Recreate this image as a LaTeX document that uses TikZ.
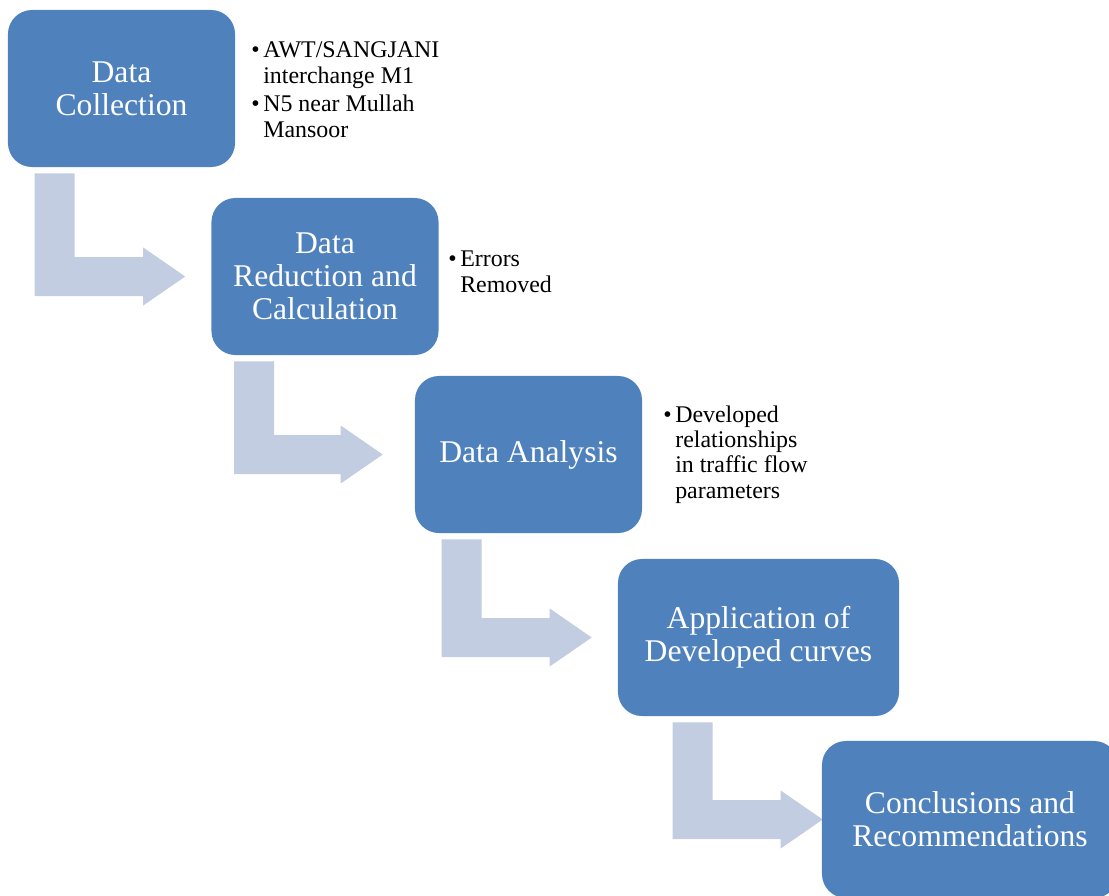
\documentclass[tikz,border=0pt]{standalone}
\usepackage{fontspec}
\setmainfont{Liberation Serif}
\usepackage{tikz}
\usetikzlibrary{calc,backgrounds}

\definecolor{stepblue}{HTML}{4F81BD}
\definecolor{arrowgrey}{RGB}{194,205,225}

% bullet hanging left of the text
\newcommand{\bul}{\llap{\textbullet\hspace{0.15em}}}

% bent arrow: source, target, stem offset, tip offset
\newcommand{\bentarrow}[4]{%
	\coordinate (s) at ($(#1.south west)+(#3,6)$);
	\coordinate (t) at ($(#2.west)+(#4,0)$);
	\fill[arrowgrey] (s) -- ++(40,0) |- ($(t)+(-42,-19.5)$) -- ++(0,-9.5) -- (t) -- ++(-42,29) -- ++(0,-9.5) -| (s) -- cycle;
}

\begin{document}
\begin{tikzpicture}[x=0.025cm, y=-0.025cm,
	stepbox/.style={rectangle, rounded corners=0.6cm, fill=stepblue, text=white, minimum height=3.925cm, align=center, inner sep=0pt, font=\fontsize{22.5pt}{23.5pt}\selectfont},
	notes/.style={anchor=base west, align=left, inner sep=0pt, font=\fontsize{17pt}{17.8pt}\selectfont}]

		\useasboundingbox (0,0) rectangle (1109,895);
		\clip (0,0) rectangle (1109,895);

		% Process steps
		\node[stepbox, minimum width=5.675cm] (collect) at (121.5,88.5) {Data\\Collection};
		\node[stepbox, minimum width=5.675cm] (reduce) at (325,276.5) {Data\\Reduction and\\Calculation};
		\node[stepbox, minimum width=5.675cm] (analyse) at (528.5,454.5) {Data Analysis};
		\node[stepbox, minimum width=7.025cm] (apply) at (758.5,637.5) {Application of\\Developed curves};
		\node[stepbox, minimum width=7.4cm] (conclude) at (970,819.5) {Conclusions and\\Recommendations};

		% Notes beside the steps (placed at the last line)
		\node[notes] (collectnotes) at (263,137) {\bul AWT/SANGJANI\\interchange M1\\[2.8pt]\bul N5 near Mullah\\Mansoor};
		\node[notes] (reducenotes) at (460,292) {\bul Errors\\Removed};
		\node[notes] (analysenotes) at (675,498) {\bul Developed\\relationships\\in traffic flow\\parameters};

		% Bent arrows behind the steps
		\begin{scope}[on background layer]
			\bentarrow{collect}{reduce}{27}{-26}
			\bentarrow{reduce}{analyse}{23}{-32}
			\bentarrow{analyse}{apply}{27}{-26}
			\bentarrow{apply}{conclude}{55}{1}
		\end{scope}

	\end{tikzpicture}
\end{document}
